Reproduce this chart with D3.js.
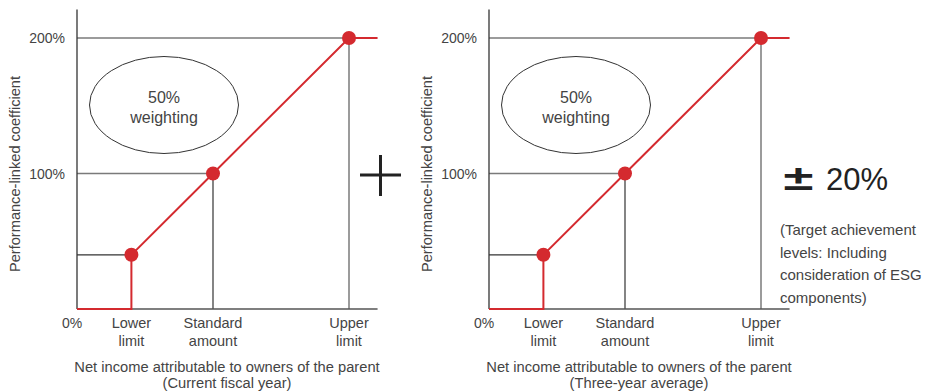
<!DOCTYPE html>
<html>
<head>
<meta charset="utf-8">
<script src="https://cdn.jsdelivr.net/npm/d3@7"></script>
<style>
  body { margin: 0; background: #fff; }
  svg { display: block; font-family: "Liberation Sans", Arial, sans-serif; }
</style>
</head>
<body>
<svg id="drawing_region"></svg>
<script>
// data
const guideX = [40, 100, 200];           // lower limit, standard amount, upper limit (% of standard)
const guideY = [40, 100, 200];           // coefficient at each point (%)
const xLabels = [["Lower", "limit"], ["Standard", "amount"], ["Upper", "limit"]];
const yTicks = [100, 200];
const yTickLabels = ["100%", "200%"];
const zeroLabel = "0%";
const curve = [[0, 0], [40, 0], [40, 40], [100, 100], [200, 200], [221, 200]];
const panelSubtitles = ["(Current fiscal year)", "(Three-year average)"];
const xTitle = "Net income attributable to owners of the parent";
const yTitle = "Performance-linked coefficient";
const bubbleText = ["50%", "weighting"];
const bonusLabel = "20%";
const bonusNote = ["(Target achievement", "levels: Including", "consideration of ESG", "components)"];

const W = 927, H = 392;
const svg = d3.select('#drawing_region').attr('width', W).attr('height', H);

const red = '#d42a2f';
const textCol = '#444';

function drawPanel(offset, subtitle) {
    const x = d3.scaleLinear().domain([0, 200]).range([77 + offset, 349 + offset]);
    const y = d3.scaleLinear().domain([0, 200]).range([309, 38]);
    const g = svg.append('g');

    // guide lines
    guideX.forEach((v, i) => {
        const c = i === 0 ? '#333' : '#7a7a7a';
        g.append('line')
            .attr('x1', x(0)).attr('x2', x(v))
            .attr('y1', y(guideY[i])).attr('y2', y(guideY[i]))
            .attr('stroke', c).attr('stroke-width', i === 0 ? 1.2 : 1.5);
        if (i > 0) {
            g.append('line')
                .attr('x1', x(v)).attr('x2', x(v))
                .attr('y1', y(guideY[i])).attr('y2', y(0))
                .attr('stroke', i === 1 ? '#333' : '#7a7a7a').attr('stroke-width', i === 1 ? 1.2 : 1.5);
        }
    });

    // axes
    g.append('line')
        .attr('x1', x(0)).attr('x2', x(0))
        .attr('y1', y(221)).attr('y2', y(0))
        .attr('stroke', '#333').attr('stroke-width', 1.3);
    g.append('line')
        .attr('x1', x(0)).attr('x2', x(221))
        .attr('y1', y(0)).attr('y2', y(0))
        .attr('stroke', '#555').attr('stroke-width', 1.3);

    // red curve
    g.append('path')
        .datum(curve)
        .attr('d', d3.line().x(d => x(d[0])).y(d => y(d[1])))
        .attr('fill', 'none')
        .attr('stroke', red)
        .attr('stroke-width', 2);

    g.selectAll('circle.pt')
        .data(guideX)
        .enter()
        .append('circle')
        .attr('cx', d => x(d))
        .attr('cy', (d, i) => y(guideY[i]))
        .attr('r', 7)
        .attr('fill', red);

    // y tick labels
    g.selectAll('text.ytick')
        .data(yTicks)
        .enter()
        .append('text')
        .attr('x', x(0) - 12)
        .attr('y', d => y(d) + 5)
        .attr('text-anchor', 'end')
        .attr('fill', textCol)
        .style('font-size', '14px')
        .text((d, i) => yTickLabels[i]);

    g.append('text')
        .attr('x', x(0) - 5).attr('y', 328)
        .attr('text-anchor', 'middle')
        .attr('fill', textCol)
        .style('font-size', '14px')
        .text(zeroLabel);

    // x labels
    xLabels.forEach((lines, i) => {
        const t = g.append('text')
            .attr('text-anchor', 'middle')
            .attr('fill', textCol)
            .style('font-size', '14.5px');
        lines.forEach((s, j) => {
            t.append('tspan').attr('x', x(guideX[i])).attr('y', 328 + j * 18).text(s);
        });
    });

    // titles
    const tt = g.append('text')
        .attr('text-anchor', 'middle')
        .attr('fill', textCol)
        .style('font-size', '14.7px');
    tt.append('tspan').attr('x', 227 + offset).attr('y', 372).text(xTitle);
    tt.append('tspan').attr('x', 227 + offset).attr('y', 388).text(subtitle);

    g.append('text')
        .attr('transform', `translate(${20 + offset},174) rotate(-90)`)
        .attr('text-anchor', 'middle')
        .attr('fill', textCol)
        .style('font-size', '14.6px')
        .text(yTitle);

    // ellipse
    g.append('ellipse')
        .attr('cx', 164 + offset).attr('cy', 105)
        .attr('rx', 74.5).attr('ry', 48.5)
        .attr('fill', 'none')
        .attr('stroke', '#333').attr('stroke-width', 1);
    const et = g.append('text')
        .attr('text-anchor', 'middle')
        .attr('fill', textCol)
        .style('font-size', '16px');
    bubbleText.forEach((s, j) => {
        et.append('tspan').attr('x', 164 + offset).attr('y', 103 + j * 20).text(s);
    });
}

panelSubtitles.forEach((s, i) => drawPanel(i * 412, s));

// plus sign between panels
svg.append('line').attr('x1', 360).attr('x2', 401).attr('y1', 175).attr('y2', 175)
    .attr('stroke', '#222').attr('stroke-width', 3);
svg.append('line').attr('x1', 380.5).attr('x2', 380.5).attr('y1', 155).attr('y2', 196)
    .attr('stroke', '#222').attr('stroke-width', 3);

// bonus range
svg.append('text')
    .attr('transform', 'translate(798.5,190) scale(1.65,1.05)')
    .attr('text-anchor', 'middle')
    .attr('fill', '#222')
    .style('font-size', '33px')
    .style('font-weight', 'bold')
    .text('±');
svg.append('text')
    .attr('x', 826).attr('y', 190)
    .attr('fill', '#222')
    .style('font-size', '31px')
    .text(bonusLabel);

const nt = svg.append('text')
    .attr('fill', textCol)
    .style('font-size', '15px');
bonusNote.forEach((s, j) => {
    nt.append('tspan').attr('x', 780).attr('y', 235 + j * 22.5).text(s);
});
</script>
</body>
</html>
